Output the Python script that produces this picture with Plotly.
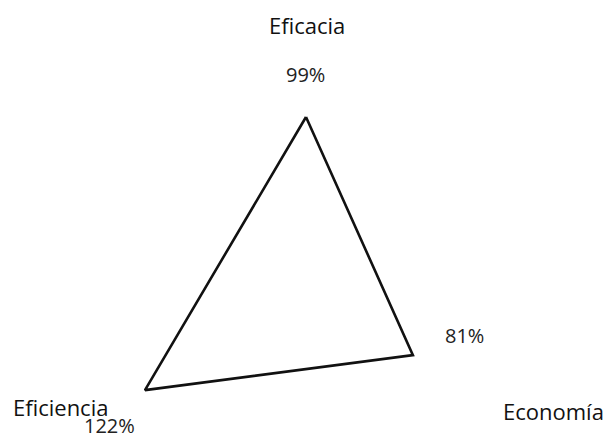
import math
import plotly.graph_objects as go

# Datos
categorias = ["Eficacia", "Economía", "Eficiencia"]
valores = [99, 81, 122]
angulos = [90, -30, 210]  # dirección de cada eje del radar (grados)

# Posición de los textos (px desde la esquina superior izquierda)
cat_px = [(307, 25), (553, 411), (60, 407)]
val_px = [(305, 75), (464, 335), (109, 425)]

W, H = 610, 439
FONT = "Open Sans, Lato, sans-serif"

# proyección del radar al plano
xs = [v * math.cos(math.radians(a)) for v, a in zip(valores, angulos)]
ys = [v * math.sin(math.radians(a)) for v, a in zip(valores, angulos)]

fig = go.Figure()
fig.add_trace(go.Scatter(
    x=xs + xs[:1],
    y=ys + ys[:1],
    mode="lines",
    line=dict(color="#111111", width=2.6),
    showlegend=False,
    hoverinfo="skip",
))


def paper(px, py):
    return px / W, 1 - py / H


anots = []
for (px, py), txt in zip(cat_px, categorias):
    x, y = paper(px, py)
    anots.append(dict(x=x, y=y, xref="paper", yref="paper", text=txt,
                      xanchor="center", yanchor="middle", showarrow=False,
                      font=dict(family=FONT, size=22, color="#111111")))
for (px, py), v in zip(val_px, valores):
    x, y = paper(px, py)
    anots.append(dict(x=x, y=y, xref="paper", yref="paper", text=f"{v}%",
                      xanchor="center", yanchor="middle", showarrow=False,
                      font=dict(family=FONT, size=20, color="#222222")))

# escala: centro del radar en (306, 286) px
kx, ky = 1.524, 1.707
cx, cy = 306, 286

fig.update_layout(
    width=W, height=H,
    margin=dict(l=0, r=0, t=0, b=0),
    paper_bgcolor="white",
    plot_bgcolor="white",
    xaxis=dict(visible=False, range=[-cx / kx, (W - cx) / kx]),
    yaxis=dict(visible=False, range=[-(H - cy) / ky, cy / ky]),
    annotations=anots,
)

fig.write_html("out.html", config={"displayModeBar": False},
               post_script="document.body.style.margin='0';")
